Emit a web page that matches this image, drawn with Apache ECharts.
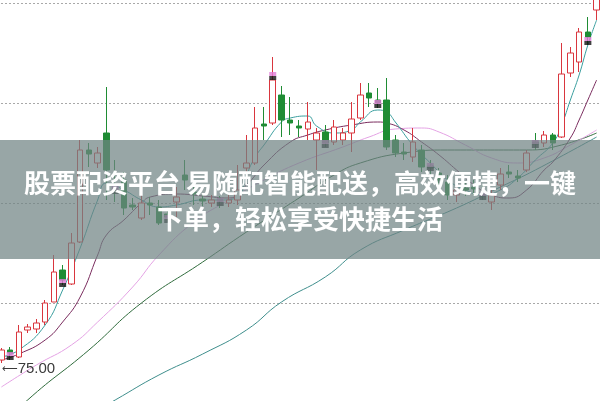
<!DOCTYPE html>
<html><head><meta charset="utf-8">
<script src="https://cdn.jsdelivr.net/npm/echarts@6/dist/echarts.min.js"></script>
<style>html,body{margin:0;padding:0;background:#fff}#c{width:600px;height:401px}</style>
</head><body><div id="c"></div>
<script>
// candles: [open, close, low, high]
const CANDLES = [
[74.3,75.3,74.0,75.5],[75.3,75.0,74.3,75.6],[74.6,77.1,74.5,77.8],[77.3,77.6,77.0,77.9],[77.4,78.0,77.0,78.4],
[78.1,80.0,77.8,80.3],[80.1,83.1,80.1,84.8],[83.3,82.3,81.8,83.8],[81.9,86.0,81.8,87.0],[86.1,95.3,86.0,96.3],
[95.3,94.9,93.6,96.0],[94.0,95.0,93.5,95.6],[97.0,93.3,90.3,101.6],[91.5,91.2,90.1,94.3],[92.3,89.5,88.8,93.1],
[89.8,89.6,89.3,90.5],[88.5,90.0,88.3,90.8],[90.0,89.8,88.8,90.6],[89.6,88.0,87.8,90.3],[88.9,88.6,88.1,89.3],
[90.1,90.6,88.6,91.6],[92.8,92.3,91.3,94.3],[91.1,90.9,89.8,91.8],[90.4,90.2,89.7,91.0],[90.0,90.3,89.6,90.8],
[90.4,90.2,89.5,90.7],[90.0,90.3,89.6,90.8],[90.3,91.3,89.8,93.8],[93.5,94.0,93.1,96.8],[94.0,97.5,93.8,99.6],
[97.9,97.7,96.3,99.6],[98.0,102.3,97.8,104.6],[100.8,98.3,96.6,101.7],[98.3,98.0,96.8,100.6],[97.7,97.5,96.6,98.3],
[97.4,98.1,96.3,100.1],[96.3,97.0,93.3,97.5],[97.1,96.0,95.6,97.8],[96.1,97.6,95.8,98.3],[96.3,97.0,95.8,97.5],
[97.0,98.4,95.1,100.1],[98.5,100.8,98.3,102.0],[101.0,100.5,99.6,102.0],[100.3,100.0,99.5,101.5],[100.3,95.6,95.3,102.5],
[96.3,95.0,94.6,96.8],[95.1,94.9,94.3,96.0],[94.6,96.1,94.1,97.5],[95.3,93.6,93.1,95.8],[93.7,93.5,92.8,94.3],
[93.0,92.3,91.8,93.5],[92.1,90.8,90.3,92.8],[90.8,91.3,90.1,91.6],[91.5,91.3,90.7,92.0],[91.6,91.4,90.8,92.3],
[90.9,90.7,90.3,91.8],[90.1,90.8,89.3,91.3],[91.8,92.9,91.3,93.5],[93.1,92.9,92.5,93.8],[92.7,92.5,92.1,93.3],
[93.3,95.0,93.1,95.3],[96.1,95.9,95.3,97.0],[96.0,96.8,95.6,97.2],[96.8,96.0,95.3,97.0],[96.6,102.9,96.5,106.0],
[103.0,105.0,102.6,105.6],[104.1,107.1,103.1,107.5],[107.1,106.6,105.8,108.6],[109.3,112.3,108.3,112.8]
];
const CATEGORIES = CANDLES.map((_, i) => 'D' + (i + 1));
// moving-average lines: [categoryIndex, value]
const MA5 = [[0,74.6],[2,75.3],[5,77.8],[7,81.3],[9,85.5],[11,90.3],[12,92.0],[14,91.3],[16,90.3],[18,89.6],[20,89.8],[23,90.3],[25,90.3],[27,90.6],[28,92.8],[29,94.6],[30,95.8],[32,98.1],[33,98.5],[35,98.7],[36,97.7],[38,97.0],[40,97.3],[41,98.1],[43,99.3],[44,99.1],[45,98.1],[47,95.8],[49,94.0],[51,92.3],[53,91.3],[55,90.8],[57,91.3],[59,92.5],[61,94.3],[63,96.0],[64,97.8],[65,100.3],[66,102.8],[67,105.8],[68,108.3]];
const MA10 = [[0,74.3],[2,74.9],[5,76.3],[7,78.1],[9,80.6],[11,84.8],[12,86.8],[14,88.3],[16,90.0],[17,90.6],[20,90.9],[23,90.7],[26,90.5],[28,91.8],[30,93.8],[33,96.1],[35,96.8],[37,97.3],[40,97.8],[43,98.1],[44,98.0],[46,97.3],[48,96.1],[50,94.8],[52,93.3],[54,91.8],[56,90.8],[58,90.5],[60,91.3],[62,93.3],[63,94.1],[65,96.5],[66,98.3],[67,100.3],[68,102.3]];
const MA20 = [[0,71.6],[4,73.8],[8,75.8],[11,78.1],[15,81.6],[18,84.8],[22,88.1],[26,90.3],[30,92.3],[34,94.0],[39,95.6],[42,96.6],[45,97.4],[48,97.5],[50,97.1],[53,95.8],[56,94.5],[59,94.0],[62,94.5],[65,95.8],[68,97.3]];
const MA60 = [[0,67.5],[3,70.3],[10,75.3],[16,80.0],[23,84.1],[28,87.1],[34,90.5],[38,92.8],[41,94.0],[46,95.0],[51,95.3],[60,95.3],[64,95.8],[68,97.0]];
const MA120 = [[8,67.8],[13,70.3],[18,72.8],[23,74.9],[28,77.3],[32,80.1],[37,82.6],[41,85.3],[46,87.3],[52,89.5],[57,91.6],[61,93.3],[68,96.6]];
const MARK_IDX = [1,7,13,19,25,31,37,43,49,55,61,67];
const MARK_VAL = [74.7,82.0,91.3,88.4,90.1,102.7,95.9,99.9,93.6,90.7,95.9,106.2];
const LOW_LABEL = '75.00';
const BANNER = ['股票配资平台 易随配智能配送，高效便捷，一键', '下单，轻松享受快捷生活'];

const marks = MARK_IDX.map((x, i) => [x, MARK_VAL[i]]);
let lowIdx = 0; CANDLES.forEach((c, i) => { if (c[2] < CANDLES[lowIdx][2]) lowIdx = i; });

const chart = echarts.init(document.getElementById('c'), null, {renderer: 'canvas'});
const line = (name, data, color) => ({
  name, type: 'line', data, smooth: true, symbol: 'none', connectNulls: true,
  lineStyle: {color, width: 1}, z: 3, silent: true, animation: false
});
chart.setOption({
  animation: false,
  grid: {left: -3, width: 604, top: -97, height: 500, outerBoundsMode: 'none', containLabel: false},
  xAxis: {type: 'category', data: CATEGORIES, boundaryGap: true,
    axisLine: {show: false}, axisTick: {show: false}, axisLabel: {show: false}, splitLine: {show: false}},
  yAxis: {type: 'value', min: 70, max: 120, interval: 10,
    axisLine: {show: false}, axisTick: {show: false}, axisLabel: {show: false},
    splitLine: {show: true, lineStyle: {color: '#a8a8a8', type: [2, 2], width: 1}}},
  series: [
    line('MA120', MA120, '#3e8e8c'),
    line('MA60', MA60, '#2f6b3c'),
    line('MA20', MA20, '#e4a2e4'),
    line('MA10', MA10, '#7a2c5e'),
    line('MA5', MA5, '#3a9e9e'),
    {type: 'candlestick', data: CANDLES, barWidth: 6, z: 4,
      itemStyle: {color: '#ffffff', color0: '#1f8c34', borderColor: '#d9363e', borderColor0: '#1f8c34', borderWidth: 1},
      markPoint: {symbol: 'circle', symbolSize: 1, itemStyle: {color: 'rgba(0,0,0,0)'},
        data: [{coord: [lowIdx, CANDLES[lowIdx][2]], value: LOW_LABEL}],
        label: {show: true, formatter: '{a|⟵}{b|' + LOW_LABEL + '}', position: 'right', distance: 0, offset: [0, 6],
          rich: {a: {color: '#3a3a3a', fontSize: 11, fontFamily: 'DejaVu Sans'},
                 b: {color: '#3a3a3a', fontSize: 15, fontFamily: 'Liberation Sans'}}}}},
    {type: 'scatter', data: marks, symbol: 'rect', symbolSize: [7, 4], symbolOffset: [0, -2], z: 5,
      itemStyle: {color: '#e07ad6'}},
    {type: 'scatter', data: marks, symbol: 'rect', symbolSize: [7, 4], symbolOffset: [0, 2], z: 5,
      itemStyle: {color: '#111111'}}
  ],
  graphic: [
    {type: 'rect', shape: {x: 0, y: 140, width: 600, height: 119}, style: {fill: 'rgba(112,132,132,0.72)'}, z: 100},
    {type: 'text', x: 300, y: 183, z: 101, style: {text: BANNER[0], fill: '#ffffff', align: 'center', verticalAlign: 'middle',
      font: 'bold 26px "Noto Sans CJK SC"'}},
    {type: 'text', x: 300, y: 219, z: 101, style: {text: BANNER[1], fill: '#ffffff', align: 'center', verticalAlign: 'middle',
      font: 'bold 26px "Noto Sans CJK SC"'}}
  ]
});
</script></body></html>
